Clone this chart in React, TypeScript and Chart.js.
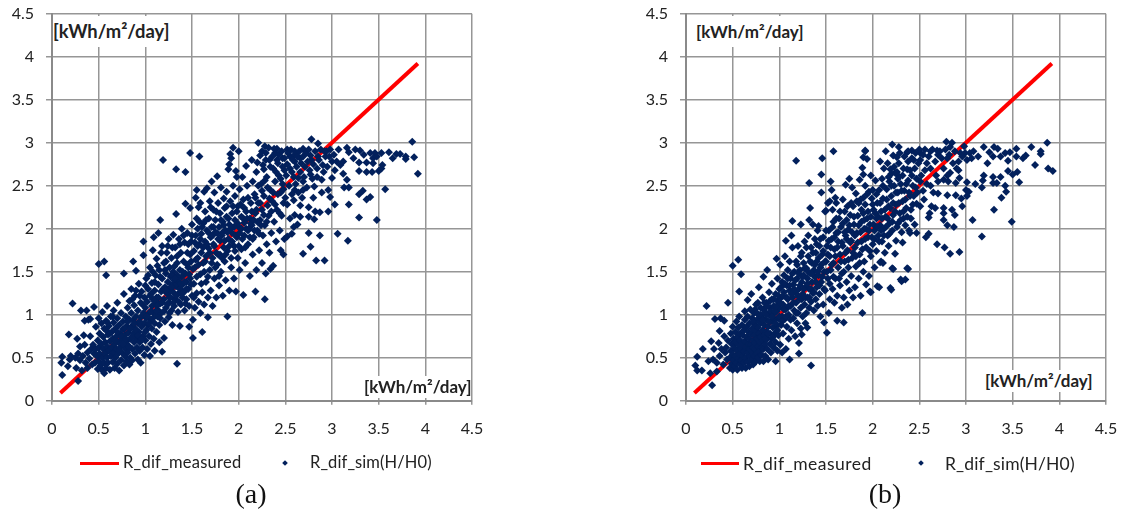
import React, { useEffect, useRef } from "react";
import { Chart, registerables } from "chart.js";

Chart.register(...registerables);

const tickValues = [0, 0.5, 1, 1.5, 2, 2.5, 3, 3.5, 4, 4.5];
const seriesLineName = "R_dif_measured";
const seriesDotName = "R_dif_sim(H/H0)";
const unitLabel = "[kWh/m²/day]";
const measuredLine: [number, number][] = [[0.09, 0.09], [3.92, 3.92]];

// Panel (a): x, y, x, y ...
const simA: number[] = [
  .1,.44,.11,.3,.11,.51,.17,.4,.18,.77,.19,.48,.2,.52,.22,1.13,.25,.5,.26,.38,.27,.72,.28,.23,.28,.55,.3,.47,.3,.63,.31,1.05,
  .32,.35,.33,.52,.34,.76,.35,.65,.35,.93,.36,.44,.37,1.05,.38,.38,.38,.56,.39,.94,.4,.49,.41,.75,.41,.95,.42,.6,.43,.42,.44,.65,.45,.55,.45,1.09,
  .46,.44,.47,.6,.47,.86,.48,.52,.49,.37,.49,.7,.5,.46,.5,.62,.5,.96,.5,1.59,.51,.55,.51,.78,.52,.41,.53,.66,.53,.9,.54,.35,.54,.5,.54,1.03,
  .55,.6,.55,.74,.56,.44,.56,.84,.56,.32,.56,1.62,.57,.55,.57,.68,.58,.38,.58,.93,.58,1.46,.59,.5,.59,.63,.59,1.1,.6,.77,.6,.44,
  .61,.58,.61,.87,.62,.69,.62,.36,.63,.52,.63,.98,.64,.62,.64,.8,.65,.45,.65,.72,.66,.56,.66,.91,.66,1.05,.67,.38,.67,.66,.68,.5,.68,.84,
  .69,.6,.69,.75,.7,.43,.7,.96,.7,1.14,.71,.55,.71,.68,.72,.88,.72,.35,.73,.62,.73,.78,.74,.47,.74,1.02,.75,.7,.75,.56,.76,.92,.76,.83,
  .77,.41,.77,.64,.77,1.24,.77,1.48,.78,.52,.78,.76,.79,.98,.79,.6,.8,.87,.8,.46,.8,.69,.81,1.08,.81,.56,.82,.79,.82,.64,.83,.94,.83,.42,.83,1.16,
  .84,.72,.84,.5,.85,.86,.85,1.02,.85,1.3,.86,.6,.86,.47,.87,.78,.87,.94,.87,1.62,.88,.68,.88,1.11,.89,.55,.89,.84,.89,1.22,.9,.98,.9,1.51,
  .91,.73,.91,.62,.92,.48,.92,.9,.92,1.05,.93,.8,.93,1.36,.94,.58,.94,.68,.95,.44,.95,1.14,.95,.97,.96,.86,.96,1.27,.97,.75,.97,.62,.98,1.02,.98,1.69,.98,1.85,
  .99,.9,.99,.53,.99,1.2,1,.7,1,1.08,1.01,.82,1.01,.96,1.01,1.42,1.02,.6,1.02,1.15,1.03,1.3,1.03,.88,1.04,.75,1.04,1.02,1.05,.52,1.05,1.22,1.05,1.55,
  1.06,.66,1.06,.94,1.07,1.1,1.07,.84,1.07,1.37,1.08,1.75,1.08,1.18,1.09,.72,1.09,1.02,1.09,1.9,1.1,.58,1.1,1.28,1.1,.9,1.11,1.46,1.11,1.12,1.12,.8,1.12,1.65,
  1.13,.98,1.13,1.06,1.14,1.2,1.14,1.95,1.14,1.35,1.15,.68,1.15,1.52,1.15,.88,1.16,1.13,1.16,2.1,1.17,1.27,1.17,1.02,1.18,.57,1.18,1.42,1.18,1.8,1.19,2.8,
  1.2,.73,1.2,1.18,1.2,1.6,1.21,1.32,1.21,.92,1.22,1.08,1.22,1.48,1.23,1.25,1.23,1.72,1.24,1.38,1.25,.97,1.25,1.14,1.25,1.88,1.26,1.55,1.26,1.31,1.27,1.2,1.27,1.44,
  1.28,1.05,1.28,1.66,1.29,1.35,1.29,.88,1.3,1.26,1.3,1.5,1.3,1.93,1.31,1.1,1.31,1.4,1.32,1.18,1.32,1.78,1.33,1.33,1.33,2.17,1.33,2.69,1.34,.43,1.34,1.46,1.34,1.6,
  1.35,1.24,1.35,1.03,1.36,1.38,1.36,1.88,1.37,.87,1.37,1.3,1.37,1.52,1.38,1.12,1.38,1.72,1.39,1.44,1.39,2,1.4,1.2,1.4,1.35,1.41,1.62,1.42,1.05,1.42,1.27,1.42,1.84,
  1.43,1.48,1.43,2.29,1.43,2.66,1.44,1.38,1.44,1.18,1.45,1.72,1.45,1.95,1.46,1.3,1.46,1.55,1.47,.86,1.47,1.1,1.48,1.42,1.48,2.24,1.48,2.88,1.49,1.62,1.49,1.85,1.5,1.22,1.5,2.05,
  1.51,.94,1.51,.73,1.52,1.36,1.52,1.74,1.53,1.08,1.53,1.55,1.54,1.92,1.54,2.36,1.55,2.45,1.55,1.25,1.55,2.12,1.56,1.66,1.56,2,1.57,1.15,1.57,2.25,1.58,1.82,1.58,2.84,
  1.59,1.02,1.59,1.47,1.59,2.3,1.6,1.72,1.6,1.94,1.61,.8,1.61,1.26,1.62,2.06,1.62,1.6,1.63,2.43,1.63,1.12,1.64,1.85,1.64,2.2,1.65,1.38,1.65,1.68,1.66,2.47,1.66,1.98,
  1.67,.97,1.67,1.2,1.68,1.77,1.68,2.12,1.69,1.52,1.69,2.32,1.7,1.9,1.7,1.28,1.71,2.55,1.71,2.02,1.72,1.1,1.72,1.66,1.73,1.82,1.73,2.22,1.74,1.42,1.74,2.42,
  1.75,1.96,1.75,2.1,1.76,1.2,1.76,1.72,1.77,2.61,1.77,1.58,1.78,1.88,1.78,2.3,1.79,1.34,1.79,2.02,1.8,1.7,1.8,2.18,1.81,1.5,1.81,2.48,1.82,1.92,1.83,1.22,1.83,2.08,
  1.84,1.78,1.84,2.35,1.85,1.62,1.85,2.24,1.86,1.4,1.86,1.98,1.87,2.14,1.87,2.43,1.88,.98,1.88,1.74,1.89,1.88,1.89,2.69,1.9,1.28,1.9,2.75,1.9,2.05,1.91,2.32,1.91,2.87,
  1.92,1.55,1.92,2.82,1.93,1.95,1.93,2.18,1.94,2.94,1.94,2.5,1.95,1.42,1.95,1.8,1.96,2.1,1.96,2.38,1.97,1.27,1.97,2.67,1.98,1.9,1.98,2.6,1.99,1.66,1.99,2.26,
  2,2.02,2,2.9,2.01,2.46,2.01,1.52,2.03,1.76,2.03,2.14,2.04,2.6,2.05,1.23,2.05,2.34,2.06,1.92,2.06,2.07,2.07,1.6,2.08,2.73,2.08,2.2,2.09,2.5,2.1,1.82,2.1,1.98,
  2.12,2.12,2.12,1.45,2.13,2.3,2.14,2.8,2.14,2.04,2.15,1.7,2.15,2.55,2.16,1.9,2.17,2.4,2.18,1.27,2.18,2.18,2.19,2.66,2.19,1.52,2.2,2.77,2.2,1.98,2.21,3,2.21,2.3,
  2.22,1.75,2.23,2.1,2.23,2.85,2.24,2.52,2.25,1.6,2.25,2.9,2.25,2.22,2.26,1.92,2.27,2.69,2.27,2.38,2.28,1.18,2.28,2.96,2.28,2.04,2.29,1.48,2.29,2.88,2.3,1.82,2.3,2.6,
  2.31,2.27,2.32,2.15,2.33,1.72,2.33,2.8,2.34,1.53,2.34,2.45,2.35,1.95,2.36,2.32,2.37,1.57,2.37,2.7,2.38,2.08,2.39,2.55,2.39,2.88,2.4,1.85,2.41,2.22,2.41,2.93,
  2.42,2.76,2.43,2.62,2.44,1.98,2.45,2.42,2.45,1.75,2.46,2.15,2.47,2.82,2.47,2.52,2.48,1.7,2.48,2.3,2.49,1.88,2.49,2.68,
  2.52,1.91,2.52,2.28,2.52,2.92,2.55,2.12,2.55,2.84,2.57,1.94,2.57,2.66,2.59,2.02,2.59,2.33,2.6,2.16,2.6,2.45,2.6,2.78,2.6,2.86,2.63,2.05,2.64,2.59,2.66,2.14,2.66,2.27,2.66,2.82,
  2.69,1.71,2.69,2.45,2.69,2.55,2.69,2.93,2.75,1.95,2.75,2.14,2.75,2.25,2.77,1.79,2.77,2.63,2.78,2.8,2.78,3.04,2.8,2.36,2.81,2.11,2.81,2.49,2.82,2.2,2.83,1.63,2.84,2.6,2.85,2.84,2.85,2.99,
  2.87,1.92,2.87,2.19,2.89,2.42,2.89,2.57,2.91,2.66,2.92,1.63,2.93,2.84,2.94,2.9,2.96,2.2,2.96,2.45,2.98,2.37,2.98,2.92,3,2.59,3,2.78,3.03,2.28,3.03,2.68,3.06,1.94,
  3.07,2.92,3.09,2.74,3.12,2.64,3.12,2.78,3.13,2.48,3.16,2.57,3.16,2.94,3.17,1.86,3.18,2.28,3.18,2.48,3.18,2.89,3.23,2.82,3.25,2.92,3.29,2.13,3.29,2.4,3.29,2.67,3.29,2.77,3.3,2.91,
  3.33,2.44,3.34,2.86,3.37,2.34,3.37,2.66,3.37,2.77,3.41,2.37,3.41,2.88,3.43,2.66,3.44,2.76,3.44,2.82,3.46,2.88,3.48,2.1,3.48,2.84,3.5,2.67,3.53,2.7,3.53,2.88,3.54,2.74,
  3.57,2.46,3.61,2.89,3.65,2.82,3.69,2.87,3.73,2.87,3.79,2.81,3.79,2.84,3.86,3.01,3.88,2.83,3.92,2.64,
];

// Panel (a), further marks of the dense band
const simABand: number[] = [
  .86,1.18,.9,1.28,.94,1.22,.97,1.12,1,1.34,1.03,1.46,1.06,1.24,1.08,1.5,1.1,1.38,1.12,1.2,1.13,1.57,1.16,1.44,1.17,1.72,1.19,1.3,1.21,1.52,1.22,1.62,1.24,1.8,1.26,1.02,
  1.27,1.28,1.28,1.46,1.29,1.78,1.31,1.56,1.32,1.34,1.33,1.22,1.34,1.68,1.35,1.42,1.36,1.15,1.37,1.82,1.38,1.36,1.39,1.24,1.4,1.5,1.41,1.92,1.42,1.38,1.43,1.13,1.44,1.3,1.45,1.58,
  1.46,1.82,1.47,1.47,1.48,1.7,1.49,1.35,1.5,1.92,1.51,1.53,1.52,1.2,1.53,1.84,1.54,1.64,1.55,1.44,1.56,1.8,1.57,1.58,1.58,2.08,1.59,1.88,1.6,1.36,1.61,2.02,1.62,1.78,1.63,1.5,
  1.64,1.62,1.65,2.1,1.66,1.82,1.67,1.44,1.68,1.95,1.69,1.72,1.7,2.25,1.71,1.6,1.72,1.92,1.73,2.02,1.74,1.8,1.75,1.55,1.76,2.2,1.77,1.95,1.78,1.7,1.79,1.45,1.8,1.86,1.81,2.1,
  1.82,1.66,1.83,1.96,1.84,2.04,1.85,1.86,1.86,1.7,1.87,2.26,1.88,1.96,1.89,2.12,1.9,1.8,1.91,2.0,1.92,1.66,1.93,1.85,1.94,2.26,1.95,2.02,1.96,1.74,1.97,1.92,1.98,2.2,1.99,2.06,
  2,1.8,2.01,1.95,2.02,2.28,2.03,2.0,2.04,1.88,2.05,2.12,2.06,2.24,2.07,1.78,2.08,2,2.09,2.12,2.1,2.36,2.11,2.0,2.12,1.9,2.13,2.06,2.14,2.2,2.15,1.88,2.16,2.1,2.17,1.98,
  2.18,2.36,2.19,2.22,2.2,2.08,2.21,2.5,2.22,1.94,2.23,2.3,2.24,2.04,2.25,2.44,2.26,2.74,2.27,2.16,2.28,2.56,2.29,2.8,2.3,2.08,2.31,2.48,2.32,2.94,2.33,2.35,2.34,2.72,2.35,2.2,
  2.36,2.84,2.37,2.42,2.38,2.93,2.39,2.28,2.4,2.66,2.41,2.8,2.42,2.4,2.43,2.86,2.44,2.18,2.45,2.58,2.46,2.9,2.47,2.72,2.48,2.46,2.49,2.82,2.5,2.36,2.51,2.62,2.52,2.75,2.53,2.88,
  2.54,2.5,2.55,2.7,2.56,2.92,2.57,2.4,2.58,2.8,2.59,2.6,2.6,2.9,2.61,2.52,2.62,2.72,2.63,2.84,2.64,2.42,2.65,2.9,2.66,2.66,2.67,2.76,2.68,2.36,2.69,2.84,2.7,2.6,2.71,2.72,
  2.72,2.88,2.73,2.48,2.74,2.78,2.75,2.92,2.76,2.68,2.77,2.85,2.79,2.58,2.8,2.75,2.82,2.9,2.84,2.7,2.86,2.8,2.88,2.92,2.9,2.74,2.92,2.9,2.95,2.72,2.97,2.84,3.02,2.86,3.05,2.78,
  .58,.82,.6,.9,.62,.78,.65,.98,.68,.7,.7,.8,.72,.58,.74,.74,.76,.66,.78,.84,.79,.72,.81,.92,.83,.62,.84,.84,.86,.74,.88,.9,.9,.82,.92,.76,.94,.92,.96,.72,1,.8,1.02,.98,1.04,.9,1.06,1.04,1.08,.96,
  1.1,1.16,1.12,1.04,1.14,1.12,1.16,.96,1.18,1.14,1.2,1.04,1.22,1.28,1.24,1.12,1.26,1.2,1.28,1.32,1.3,1.14,1.32,1.42,
];

// Panel (b): x, y, x, y ...
const simB: number[] = [
  .1,.41,.12,.35,.12,.51,.17,.35,.18,.6,.22,1.1,.24,.46,.26,.32,.27,.69,.28,.18,.29,.48,.3,.6,.31,.95,.33,.34,.33,.44,.35,.67,.36,.52,.36,.81,.37,.96,.38,.6,.4,.42,.41,.75,.41,.93,.42,.56,.43,.62,.44,.48,.45,.7,.45,1.14,.47,.38,
  .47,.5,.48,.58,.48,.78,.49,.43,.49,.66,.5,.36,.5,.54,.5,.86,.5,1.57,.51,.72,.51,.47,.52,.61,.52,.4,.53,.8,.53,.52,.53,.68,.54,.92,.54,.44,.55,.58,.55,.74,.55,.36,.56,.65,.56,.49,.56,.85,.56,1.64,
  .57,.54,.57,.98,.57,1.27,.58,.42,.58,.7,.58,.78,.59,.6,.59,.47,.59,1.47,.6,.88,.6,.38,.6,.66,.61,.52,.61,.76,.62,.82,.62,.57,.62,.44,.63,.69,.63,.94,.63,1.04,.64,.62,.64,.38,.64,.5,.65,.74,.65,.86,
  .66,.56,.66,.45,.66,1.17,.66,.98,.67,.8,.67,.66,.68,.4,.68,.6,.68,.72,.68,.9,.69,.51,.69,1.06,.7,.78,.7,.65,.7,.47,.7,1.24,.71,.57,.71,.84,.71,.96,.72,.7,.72,.42,.72,.62,.73,.52,.73,.76,.73,1.02,.74,.88,.74,.6,.74,.67,
  .75,.46,.75,.81,.75,1.12,.76,.55,.76,.72,.76,.94,.77,.63,.77,.5,.77,.85,.78,.78,.78,1.32,.78,1.0,.79,.46,.79,.68,.79,.58,.8,.9,.8,.74,.8,1.08,.81,.53,.81,.62,.81,.97,.82,.82,.82,.7,.82,1.2,.83,1.44,.83,.6,.83,.46,
  .84,.76,.84,.88,.85,1.03,.85,.66,.85,.52,.86,.94,.86,.8,.86,1.14,.87,.6,.87,1.52,.87,.72,.88,.86,.88,.48,.89,1,.89,1.26,.9,.66,.9,.78,.9,1.08,.91,.92,.91,.56,.92,1.18,.92,.72,.92,1.36,.93,.85,.93,1,
  .94,.62,.94,1.1,.95,.78,.95,.94,.96,.46,.96,1.24,.96,.68,.97,1.04,.97,1.65,.97,.87,.98,1.16,.98,.58,.98,1.42,.99,.76,.99,.96,1,1.3,1,1.08,1.01,.65,1.01,1.58,1.02,.88,1.02,1.2,1.03,.98,1.03,.56,1.03,1.38,1.04,1.12,1.04,.78,1.05,1.46,1.05,1.26,
  1.06,.95,1.06,1.68,1.07,.6,1.07,1.06,1.07,1.86,1.08,.86,1.08,1.34,1.09,1.18,1.09,1.52,1.1,1,1.1,.72,1.11,.48,1.11,1.28,1.11,1.62,1.12,1.1,1.12,1.42,1.13,.82,1.13,1.92,1.14,2.09,1.14,1.2,1.14,1.78,1.15,.96,1.15,1.35,1.16,1.5,1.16,1.05,
  1.17,.75,1.17,1.26,1.18,2.79,1.18,1.62,1.18,1.14,1.19,.9,1.19,1.42,1.2,1.02,1.2,1.8,1.21,.55,1.21,.67,1.21,1.3,1.22,1.18,1.22,1.52,1.23,2.05,1.23,1.08,1.23,.84,1.24,.77,1.24,1.38,1.24,1.72,1.25,1.24,1.25,.98,1.26,1.46,1.26,1.6,1.27,1.12,1.27,1.85,
  1.28,1.32,1.28,.9,1.29,1.02,1.29,1.54,1.3,.85,1.3,1.2,1.3,1.42,1.31,1.68,1.31,1.92,1.32,1.08,1.32,1.3,1.32,2.1,1.32,2.53,1.33,2.24,1.33,1.48,1.34,.41,1.34,1.78,1.34,1.15,1.35,1.38,1.35,1.6,1.36,1.25,1.36,2.05,1.37,1.05,1.37,1.52,1.38,1.88,1.38,1.44,
  1.39,1.72,1.39,1.18,1.4,1.32,1.4,1.62,1.41,1.1,1.41,1.98,1.42,2.03,1.42,1.46,1.43,1.24,1.43,1.8,1.44,.98,1.44,1.55,1.45,2.42,1.45,2.63,1.45,1.38,1.46,2.82,1.46,1.7,1.47,1.12,1.47,1.9,1.48,.91,1.48,1.5,1.49,1.28,1.49,2.2,
  1.5,2.21,1.5,1.62,1.51,.79,1.51,1.8,1.52,1.42,1.52,2.3,1.53,1.02,1.53,1.98,1.54,2.32,1.54,1.18,1.54,1.68,1.55,2.55,1.55,1.52,1.56,2.45,1.56,1.88,1.57,1.3,1.57,2.22,1.58,2.9,1.58,1.6,1.58,2.08,1.59,1.14,1.59,1.76,1.6,2.36,1.6,1.42,
  1.61,2.3,1.61,1.95,1.62,.93,1.62,1.22,1.63,1.85,1.63,1.55,1.64,2.12,1.65,1.7,1.65,1.34,1.66,2.02,1.67,1.08,1.67,1.48,1.68,2.34,1.68,1.8,1.69,.91,1.69,1.2,1.7,1.62,1.7,2.2,1.71,2.51,1.71,1.92,1.72,1.38,1.72,2.1,
  1.73,1.12,1.73,1.75,1.74,1.55,1.74,1.99,1.75,2.58,1.75,1.28,1.76,2.16,1.77,1.45,1.77,1.86,1.78,2.48,1.78,1.66,1.79,2.26,1.79,1.2,1.8,2.05,1.81,1.32,1.81,1.78,1.82,2.41,1.82,1.56,1.83,1.95,1.84,2.15,1.85,1.42,1.85,2.3,
  1.86,2.57,1.86,1.7,1.87,1.22,1.87,2.34,1.88,1.85,1.88,2.08,1.89,1.02,1.89,2.71,1.9,2.18,1.9,2.63,1.9,2.83,1.9,1.5,1.91,2,1.91,1.62,1.92,2.9,1.92,2.91,1.92,2.5,1.92,2.28,1.93,1.35,1.93,1.78,1.94,2.81,1.94,2.12,1.95,1.9,1.96,2.43,1.96,1.45,
  1.97,1.27,1.97,2.05,1.98,1.26,1.98,1.68,1.98,2.62,1.99,2.35,2,2.45,2,1.82,2.01,2.22,2.02,1.55,2.02,1.98,2.03,2.56,2.04,1.74,2.04,2.12,2.05,1.33,2.05,2.3,2.06,1.92,2.07,1.32,2.07,2.45,2.08,1.61,2.08,2.78,2.08,2.04,2.09,1.62,2.09,2.2,
  2.1,1.85,2.1,2.58,2.11,1.6,2.11,2.35,2.12,2,2.12,2.7,2.13,1.72,2.14,2.9,2.14,2.14,2.15,2.46,2.16,2.76,2.16,1.92,2.17,2.26,2.17,1.8,2.18,2.55,2.18,2.06,2.19,1.31,2.19,2.69,2.2,1.29,2.2,2.64,2.2,2.38,2.21,1.54,2.21,2.98,2.21,1.98,
  2.22,1.53,2.22,2.85,2.22,2.16,2.23,2.5,2.24,1.71,2.24,2.65,2.25,1.86,2.25,2.28,2.26,2.66,2.26,2.83,2.27,2.06,2.27,2.42,2.28,2.61,2.28,2.76,2.28,2.95,2.29,2.18,2.3,1.41,2.3,2.52,2.31,1.39,2.31,1.96,2.32,1.84,2.32,2.32,2.33,2.7,2.33,2.12,
  2.34,2.44,2.35,1.41,2.35,2.04,2.36,2.24,2.37,1.54,2.37,2.69,2.37,2.89,2.38,1.53,2.38,2.56,2.38,2.78,2.39,1.98,2.4,1.95,2.4,2.38,2.41,2.12,2.42,2.91,2.42,2.62,2.43,2.28,2.44,2.8,2.45,2.05,2.46,2.48,2.47,1.95,2.47,2.29,
  2.51,2.26,2.51,2.55,2.51,2.8,2.51,2.88,2.54,2.44,2.56,2.68,2.57,1.9,2.58,2.76,2.6,1.94,2.6,2.13,2.61,2.18,2.62,2.5,2.62,2.9,2.63,2.26,2.67,2.24,2.67,2.78,2.69,1.82,2.69,2.91,2.7,2.41,2.7,2.55,2.7,2.86,
  2.76,2.1,2.76,2.18,2.76,2.24,2.76,2.57,2.77,1.78,2.79,3.01,2.8,2.04,2.8,2.39,2.8,2.82,2.81,2.55,2.83,1.71,2.83,2.65,2.83,2.95,2.85,2.22,2.85,3,2.87,2.02,2.88,2.16,2.89,2.39,2.89,2.53,2.9,2.7,2.92,2.78,2.93,1.73,2.93,2.59,
  2.94,2.88,2.95,2.35,2.96,2.26,2.98,2.96,2.99,2.88,3,2.45,3.01,2.38,3.01,2.54,3.01,2.8,3.03,2.43,3.07,2.1,3.08,2.9,3.1,2.52,3.13,2.84,3.17,1.91,3.17,2.48,3.18,2.56,3.19,2.62,3.19,2.95,3.23,2.76,3.25,2.89,
  3.29,2.53,3.29,2.6,3.29,2.84,3.3,2.22,3.3,2.95,3.33,2.53,3.34,2.93,3.37,2.6,3.37,2.84,3.38,2.36,3.42,2.5,3.42,2.88,3.43,2.43,3.45,2.67,3.45,2.79,3.47,2.89,3.49,2.08,3.5,2.63,3.54,2.84,3.54,2.93,3.55,2.66,3.57,2.54,
  3.61,2.82,3.64,2.85,3.7,2.95,3.74,2.74,3.8,2.87,3.8,2.9,3.87,3,3.88,2.7,3.93,2.67,
];

// Panel (b), further marks of the dense band
const simBBand: number[] = [
  .72,.92,.74,1.06,.76,1.02,.77,1.14,.79,.92,.8,1.0,.82,.94,.83,1.06,.84,1.14,.85,.72,.86,1.0,.87,1.1,.88,.78,.89,.92,.9,1.16,.91,1.04,.92,.98,.93,.74,.94,1.18,.95,1.04,.96,.9,.97,1.1,.98,.82,.99,1.22,
  1,.98,1.01,1.14,1.02,1.32,1.03,.92,1.04,1.22,1.05,1.06,1.06,1.36,1.07,.98,1.08,1.2,1.09,1.42,1.1,1.1,1.11,1.34,1.12,.94,1.13,1.24,1.14,1.48,1.15,1.14,1.16,1.3,1.17,1.4,1.18,1.02,1.19,1.58,
  1.2,1.22,1.21,1.48,1.22,1.34,1.23,1.68,1.24,1.18,1.25,1.44,1.26,1.3,1.27,1.54,1.28,1.2,1.29,1.78,1.3,1.36,1.31,1.5,1.32,1.2,1.33,1.62,1.34,1.3,1.35,1.48,1.36,1.72,1.37,1.26,1.38,1.58,1.39,1.38,
  1.4,1.82,1.41,1.5,1.42,1.66,1.43,1.34,1.44,1.88,1.45,1.58,1.46,1.44,1.47,1.74,1.48,1.3,1.49,1.62,1.5,1.98,1.51,1.5,1.52,1.7,1.53,1.86,1.54,1.36,1.55,1.78,1.56,1.58,1.57,2.02,1.58,1.44,1.59,1.9,
  1.6,1.68,1.61,2.12,1.62,1.78,1.63,1.96,1.64,1.42,1.65,2.2,1.66,1.62,1.67,1.84,1.68,2.06,1.69,1.5,1.7,1.96,1.71,1.72,1.72,1.88,1.73,2.26,1.74,1.64,1.75,2.04,1.76,1.84,1.77,2.3,1.78,1.96,1.79,1.72,
  1.8,2.14,1.81,1.92,1.82,1.68,1.83,2.32,1.84,1.84,1.85,2.04,1.86,1.6,1.87,1.96,1.88,2.22,1.89,1.76,1.9,2.36,1.91,2.1,1.92,1.88,1.93,2.0,1.94,2.4,1.95,2.2,1.96,1.98,1.97,1.74,1.98,2.14,1.99,1.9,
  2,2.28,2.01,2.05,2.02,1.88,2.03,2.18,2.04,2.4,2.05,2.02,2.06,2.14,2.07,1.85,2.08,2.3,2.09,1.98,2.1,2.12,2.11,2.5,2.12,1.92,2.13,2.22,2.14,2.02,2.15,2.34,2.16,2.12,2.17,2.6,2.18,1.94,2.19,2.24,
  2.2,2.5,2.21,2.08,2.22,2.3,2.23,2.72,2.24,2.2,2.25,2.42,2.26,2.02,2.27,2.58,2.28,2.3,2.29,2.88,2.3,2.1,2.31,2.44,2.32,2.62,2.33,2.2,2.34,2.84,2.35,2.34,2.36,2.52,2.37,2.14,2.38,2.9,2.39,2.42,
  2.4,2.68,2.41,2.22,2.42,2.82,2.43,2.5,2.44,2.38,2.45,2.7,2.46,2.88,2.47,2.58,2.48,2.42,2.49,2.76,2.5,2.92,2.52,2.62,2.54,2.86,2.55,2.34,2.56,2.92,2.58,2.52,2.6,2.84,2.62,2.7,2.64,2.92,2.65,2.42,
  2.68,2.62,2.72,2.9,2.74,2.82,2.76,2.7,2.78,2.92,2.8,2.62,2.82,2.86,2.86,2.76,2.88,2.9,2.92,2.68,2.96,2.84,3.04,2.88,3.06,2.82,
];

const toPoints = (...lists: number[][]) => {
  const out: { x: number; y: number }[] = [];
  for (const flat of lists)
    for (let i = 0; i + 1 < flat.length; i += 2) out.push({ x: flat[i], y: flat[i + 1] });
  return out;
};

const GRID = "#969696";
const AXIS = "#8a8a8a";
const NAVY = "#02205c";
const FONT = "Lato, Carlito, sans-serif";

function Panel(props: { left: number; width: number; values: number[]; band: number[]; rightPad: number }) {
  const ref = useRef<HTMLCanvasElement | null>(null);
  useEffect(() => {
    const axis = (fit: (s: any) => void, tickLength: number, padding: number) => ({
      type: "linear" as const,
      min: 0,
      max: 4.5,
      afterFit: (s: any) => {
        fit(s);
        s.paddingTop = 0;
        s.paddingBottom = 0;
        s.paddingLeft = 0;
        s.paddingRight = 0;
      },
      afterBuildTicks: (s: any) => {
        s.ticks = tickValues.map((value) => ({ value }));
      },
      border: { color: AXIS, width: 2 },
      grid: { color: GRID, lineWidth: 1.5, tickLength, tickColor: GRID },
      ticks: {
        padding,
        color: "#222222",
        maxRotation: 0,
        autoSkip: false,
        font: { family: FONT, size: 16 },
        callback: (v: any) => String(v),
      },
    });
    const chart = new Chart(ref.current!, {
      type: "scatter",
      data: {
        datasets: [
          {
            label: seriesLineName,
            data: measuredLine.map(([x, y]) => ({ x, y })),
            showLine: true,
            borderColor: "#ff0000",
            backgroundColor: "#ff0000",
            borderWidth: 4,
            pointRadius: 0,
            order: 2,
          },
          {
            label: seriesDotName,
            data: toPoints(props.values, props.band),
            pointStyle: "rectRot",
            pointRadius: 4,
            pointBorderWidth: 0,
            pointBackgroundColor: NAVY,
            showLine: false,
            order: 1,
          },
        ],
      },
      options: {
        animation: false,
        responsive: false,
        events: [],
        layout: { padding: { top: 13.7, right: props.rightPad, left: 0, bottom: 0 } },
        plugins: { legend: { display: false }, tooltip: { enabled: false } },
        scales: {
          x: axis((s: any) => { s.height = 111.3; }, 4, 15),
          y: axis((s: any) => { s.width = 52; }, 6, 12),
        },
      },
    } as any);
    return () => chart.destroy();
  }, []);
  return (
    <canvas
      ref={ref}
      width={props.width}
      height={512}
      style={{ position: "absolute", left: props.left, top: 0, width: props.width, height: 512, display: "block" }}
    />
  );
}

function Text(props: {
  x: number;
  y: number;
  w?: number;
  h?: number;
  size: number;
  bold?: boolean;
  serif?: boolean;
  center?: boolean;
  bg?: boolean;
  spacing?: number;
  pad?: number;
  children: React.ReactNode;
}) {
  const h = props.h ?? props.size * 1.2;
  return (
    <div
      style={{
        position: "absolute",
        left: props.x,
        top: props.y - h / 2,
        width: props.w,
        height: h,
        lineHeight: `${h}px`,
        boxSizing: "border-box",
        paddingLeft: props.pad ?? 0,
        fontFamily: props.serif ? '"Liberation Serif", serif' : FONT,
        fontSize: props.size,
        fontWeight: props.bold ? 700 : 400,
        letterSpacing: props.spacing,
        textAlign: props.center ? "center" : "left",
        whiteSpace: "nowrap",
        color: props.serif ? "#111" : "#222",
        background: props.bg ? "#fff" : undefined,
      }}
    >
      {props.children}
    </div>
  );
}

function LegendLine(props: { x: number; w: number; y: number }) {
  return <div style={{ position: "absolute", left: props.x, top: props.y - 1.5, width: props.w, height: 3, background: "#ff0000" }} />;
}
function LegendDot(props: { x: number; y: number }) {
  return (
    <div
      style={{
        position: "absolute",
        left: props.x - 2,
        top: props.y - 2,
        width: 4,
        height: 4,
        background: NAVY,
        transform: "rotate(45deg)",
      }}
    />
  );
}

export default function App() {
  return (
    <div style={{ position: "fixed", left: 0, top: 0, width: 1123, height: 512, background: "#fff", overflow: "hidden" }}>
      <Panel left={0} width={500} rightPad={28} values={simA} band={simABand} />
      <Panel left={634} width={489} rightPad={17} values={simB} band={simBBand} />

      <Text x={53} y={31} w={120} h={31} size={18.4} bold bg>{unitLabel}</Text>
      <Text x={358} y={387} w={113} h={22} size={17} bold bg pad={6}>{unitLabel}</Text>
      <Text x={688} y={31} w={118} h={31} size={17} bold bg pad={8}>{unitLabel}</Text>
      <Text x={980} y={381} w={114} h={22} size={17} bold bg pad={5}>{unitLabel}</Text>

      <LegendLine x={80} w={39} y={463} />
      <Text x={123} y={463} size={16.5} spacing={0.25}>{seriesLineName}</Text>
      <LegendDot x={285} y={463} />
      <Text x={310} y={463} size={16.5} spacing={0.1}>{seriesDotName}</Text>

      <LegendLine x={701} w={38} y={463} />
      <Text x={743} y={463} size={17.5} spacing={0.5}>{seriesLineName}</Text>
      <LegendDot x={921} y={463} />
      <Text x={945} y={463} size={17.5} spacing={0.15}>{seriesDotName}</Text>

      <Text x={201} y={494} w={100} size={28} serif center>(a)</Text>
      <Text x={835} y={494} w={100} size={28} serif center>(b)</Text>
    </div>
  );
}
